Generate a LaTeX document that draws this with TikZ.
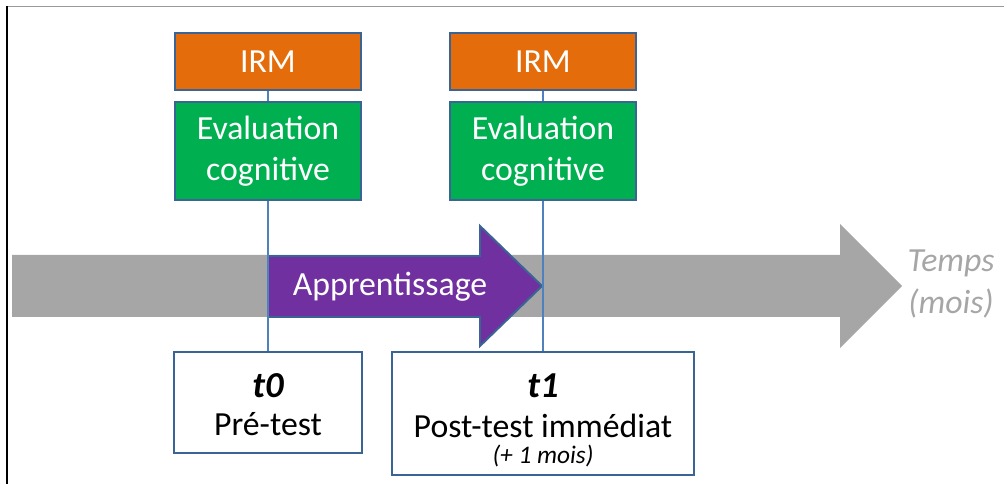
\documentclass[tikz,border=0pt]{standalone}
\usepackage{fontspec}
\setmainfont{Carlito}
\usetikzlibrary{backgrounds}
\definecolor{irmorange}{HTML}{E46C0A}
\definecolor{evalgreen}{HTML}{00B050}
\definecolor{apppurple}{HTML}{7030A0}
\definecolor{boxblue}{HTML}{3A6396}
\definecolor{lineblue}{HTML}{4F81BD}
\definecolor{timegray}{HTML}{A6A6A6}
\tikzset{
  stagebox/.style={draw=boxblue, line width=1.4pt, text=white, align=center,
    font=\fontsize{24}{29}\selectfont, minimum width=4.65cm, inner sep=0pt},
  testbox/.style={draw=boxblue, line width=1.4pt, fill=white, align=center,
    font=\fontsize{24}{29}\selectfont, inner sep=0pt},
  marker/.style={draw=lineblue, line width=2pt}
}
\begin{document}
\begin{tikzpicture}[x=0.025cm, y=-0.025cm]
\useasboundingbox (0,0) rectangle (1004,484);
% frame
\draw[gray!80, line width=1.4pt] (7,6.5) -- (1004,6.5);
\draw[black, line width=0.8pt] (7,6) -- (7,484);
% t0
\node[stagebox, fill=irmorange, minimum height=1.425cm] (irm0) at (268,61.5){IRM};
\node[stagebox, fill=evalgreen, minimum height=2.45cm] (eval0) at (268,151){Evaluation\\cognitive};
\node[testbox, minimum width=4.675cm, minimum height=2.525cm] (test0) at (268,402.5){};
\node[font=\fontsize{26}{29}\selectfont\bfseries\itshape, anchor=base] (t0) at (268,397){t0};
\node[font=\fontsize{24}{29}\selectfont, anchor=base] (pre0) at (268,435){Pré-test};
% t1
\node[stagebox, fill=irmorange, minimum height=1.425cm] (irm1) at (543,61.5){IRM};
\node[stagebox, fill=evalgreen, minimum height=2.45cm] (eval1) at (543,151){Evaluation\\cognitive};
\node[testbox, minimum width=7.55cm, minimum height=3.075cm] (test1) at (543,413.5){};
\node[font=\fontsize{26}{29}\selectfont\bfseries\itshape, anchor=base] (t1) at (543,397){t1};
\node[font=\fontsize{24}{29}\selectfont, anchor=base] (post1) at (543,437){Post-test immédiat};
\node[font=\fontsize{18}{21}\selectfont\itshape, anchor=base] (delay1) at (543,463){(+ 1 mois)};
% time axis
\node[text=timegray, font=\fontsize{24}{30}\selectfont\itshape, align=center] (temps) at (951,284){Temps\\(mois)};
\node[text=white, font=\fontsize{24}{29}\selectfont] (app) at (390,287){Apprentissage};
\begin{scope}[on background layer]
\fill[timegray] (12,255) -- (840,255) -- (840,224) -- (902,286) -- (840,348) -- (840,317) -- (12,317) -- cycle;
\filldraw[fill=apppurple, draw=boxblue, line width=1.4pt] (268,256) -- (480,256) -- (480,226) -- (542,286) -- (480,346) -- (480,317) -- (268,317) -- cycle;
\draw[marker] (irm0.north) -- (test0.north);
\draw[marker] (irm1.north) -- (test1.north);
\end{scope}
\end{tikzpicture}
\end{document}
